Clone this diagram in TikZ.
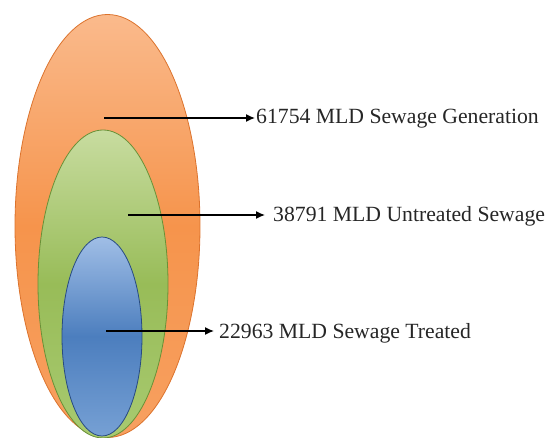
\documentclass[tikz,border=0pt]{standalone}
\usepackage{fontspec}
\setmainfont{Liberation Serif}
\usetikzlibrary{shapes.geometric,arrows.meta}
\definecolor{orT}{RGB}{250,186,140}
\definecolor{orM}{RGB}{246,148,76}
\definecolor{orB}{RGB}{247,160,96}
\definecolor{orE}{RGB}{220,115,45}
\definecolor{grT}{RGB}{200,220,160}
\definecolor{grM}{RGB}{152,188,88}
\definecolor{grB}{RGB}{168,202,112}
\definecolor{grE}{RGB}{105,145,55}
\definecolor{blT}{RGB}{160,190,230}
\definecolor{blM}{RGB}{76,126,190}
\definecolor{blB}{RGB}{118,160,212}
\definecolor{blE}{RGB}{40,75,130}
\begin{document}
\begin{tikzpicture}[x=1pt,y=-1pt,
  ell/.style={ellipse, inner sep=0pt, outer sep=0pt, line width=0.8pt},
  lbl/.style={anchor=west, inner sep=1pt, font=\fontsize{21.7}{24}\selectfont, text=black!85},
  arr/.style={-{Latex[length=9pt,width=8pt]}, line width=1.4pt, black}]
\useasboundingbox (0,0) rectangle (547,438);
\node[ell, draw=orE, top color=orT, bottom color=orB, middle color=orM, minimum width=185pt, minimum height=423pt] (orange) at (107.5,226) {};
\node[ell, draw=grE, top color=grT, bottom color=grB, middle color=grM, minimum width=130pt, minimum height=308pt] (green) at (103,284) {};
\node[ell, draw=blE, top color=blT, bottom color=blB, middle color=blM, minimum width=80pt, minimum height=199pt] (blue) at (102,336.5) {};
\coordinate (s1) at (104,118);
\coordinate (s2) at (128,215);
\coordinate (s3) at (106,331);
\node[lbl] (l1) at (255,119) {61754 MLD Sewage Generation};
\node[lbl] (l2) at (272,216) {38791 MLD Untreated Sewage};
\node[lbl] (l3) at (218,333) {22963 MLD Sewage Treated};
\draw[arr] (s1) -- (s1 -| l1.west);
\draw[arr, shorten >=7pt] (s2) -- (s2 -| l2.west);
\draw[arr, shorten >=4pt] (s3) -- (s3 -| l3.west);
\end{tikzpicture}
\end{document}
